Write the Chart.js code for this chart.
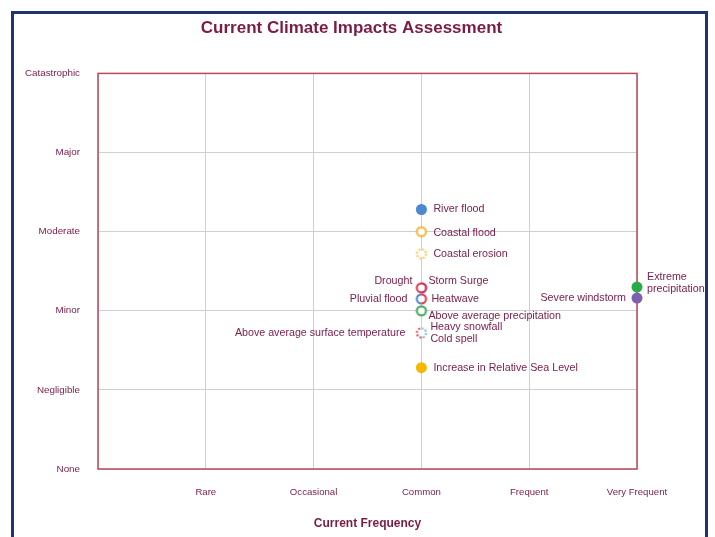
<!DOCTYPE html>
<html>
<head>
<meta charset="utf-8">
<title>Current Climate Impacts Assessment</title>
<script src="https://cdn.jsdelivr.net/npm/chart.js@4.4.1/dist/chart.umd.min.js"></script>
<style>
    html, body { margin: 0; padding: 0; background: #ffffff; }
    #frame {
        position: absolute; left: 11px; top: 11px;
        width: 691px; height: 600px;
        border: 3px solid #1f3468;
    }
    #wrap { position: absolute; left: 0; top: 0; width: 715px; height: 537px; }
</style>
</head>
<body>
<div id="frame"></div>
<div id="wrap"><canvas id="impactChart"></canvas></div>
<script>
// --- data ---
const riskNames = [
    'River flood', 'Coastal flood', 'Coastal erosion', 'Drought', 'Storm Surge',
    'Pluvial flood', 'Heatwave', 'Above average precipitation',
    'Above average surface temperature', 'Heavy snowfall', 'Cold spell',
    'Increase in Relative Sea Level', 'Extreme precipitation', 'Severe windstorm'
];
const frequencyValues = [3, 3, 3, 3, 3, 3, 3, 3, 3, 3, 3, 3, 5, 5];
const impactValues = [3.28, 3.0, 2.72, 2.29, 2.29, 2.15, 2.15, 2.0, 1.72, 1.72, 1.72, 1.28, 2.3, 2.16];
const frequencyTicks = ['', 'Rare', 'Occasional', 'Common', 'Frequent', 'Very Frequent'];
const impactTicks = ['None', 'Negligible', 'Minor', 'Moderate', 'Major', 'Catastrophic'];

const TEXT_COLOR = '#7a2150';
const FONT_FAMILY = '"Liberation Sans", Arial, sans-serif';

/**
 * Build a small ring marker (full or half, solid or dashed) as a canvas point style.
 * The inside is filled white so grid lines do not show through.
 */
function makeRing(color, half, dashed) {
    const r = 4.6, lw = 2;
    const size = Math.ceil(2 * r + lw + 2);
    const c = document.createElement('canvas');
    c.width = c.height = size;
    const ctx = c.getContext('2d');
    const mid = size / 2;
    let a0 = 0, a1 = Math.PI * 2;
    if (half === 'left') { a0 = Math.PI / 2; a1 = Math.PI * 1.5; }
    if (half === 'right') { a0 = -Math.PI / 2; a1 = Math.PI / 2; }
    // white inner fill
    ctx.fillStyle = '#ffffff';
    ctx.beginPath();
    ctx.moveTo(mid, mid);
    ctx.arc(mid, mid, r - lw / 2, a0, a1);
    ctx.closePath();
    ctx.fill();
    // coloured outline
    ctx.strokeStyle = color;
    ctx.lineWidth = lw;
    if (dashed) ctx.setLineDash([2, 1.6]);
    ctx.beginPath();
    ctx.arc(mid, mid, r, a0, a1);
    ctx.stroke();
    return c;
}

// marker style per series (same order as riskNames)
const markerStyles = [
    { fill: '#4a88cf' },
    { ring: makeRing('#f2b632', null, false) },
    { ring: makeRing('#f5c85a', null, true) },
    { ring: makeRing('#d9304f', null, false) },
    { ring: makeRing('#8a5cb0', 'right', false) },
    { ring: makeRing('#4a7fc8', 'left', false) },
    { ring: makeRing('#e23040', 'right', false) },
    { ring: makeRing('#3aa655', null, false) },
    { ring: makeRing('#e05050', 'left', true) },
    { ring: makeRing('#9cc8e8', 'right', true) },
    { ring: makeRing('#9cc8e8', 'right', true) },
    { fill: '#f7b800' },
    { fill: '#2daa48' },
    { fill: '#7d5fae' }
];

// label placement next to each marker: side, pixel offsets, line breaks
const labelPlacement = [
    { side: 'right', dx: 12, dy: 0 },
    { side: 'right', dx: 12, dy: 1 },
    { side: 'right', dx: 12, dy: 0 },
    { side: 'left', dx: -9, dy: -7 },
    { side: 'right', dx: 7, dy: -7 },
    { side: 'left', dx: -14, dy: 0 },
    { side: 'right', dx: 10, dy: 0 },
    { side: 'right', dx: 7, dy: 5 },
    { side: 'left', dx: -16, dy: 0 },
    { side: 'right', dx: 9, dy: -6 },
    { side: 'right', dx: 9, dy: 6 },
    { side: 'right', dx: 12, dy: 0 },
    { side: 'right', dx: 10, dy: -10, lines: ['Extreme', 'precipitation'] },
    { side: 'left', dx: -11, dy: 0 }
];

const datasets = riskNames.map((name, i) => {
    const style = markerStyles[i];
    return {
        label: name,
        data: [{ x: frequencyValues[i], y: impactValues[i] }],
        pointStyle: style.ring || 'circle',
        pointRadius: style.ring ? 5 : 5.5,
        pointBackgroundColor: style.fill || 'transparent',
        pointBorderColor: style.fill || 'transparent',
        pointBorderWidth: 0,
        clip: false
    };
});

// plot frame drawn under the markers
const plotBorderPlugin = {
    id: 'plotBorder',
    beforeDatasetsDraw(chart) {
        const { ctx, chartArea: a } = chart;
        ctx.save();
        ctx.strokeStyle = '#b8485e';
        ctx.lineWidth = 1.5;
        ctx.strokeRect(a.left, a.top, a.right - a.left, a.bottom - a.top);
        ctx.restore();
    }
};

// text labels beside each marker, placed through the scales
const pointLabelPlugin = {
    id: 'pointLabels',
    afterDatasetsDraw(chart) {
        const { ctx, scales } = chart;
        ctx.save();
        ctx.font = '10.7px ' + FONT_FAMILY;
        ctx.fillStyle = TEXT_COLOR;
        ctx.textBaseline = 'middle';
        riskNames.forEach((name, i) => {
            const p = labelPlacement[i];
            const px = scales.x.getPixelForValue(frequencyValues[i]);
            const py = scales.y.getPixelForValue(impactValues[i]);
            ctx.textAlign = p.side === 'left' ? 'right' : 'left';
            const lines = p.lines || [name];
            lines.forEach((line, k) => {
                ctx.fillText(line, px + p.dx, py + p.dy + k * 12);
            });
        });
        ctx.restore();
    }
};

new Chart(document.getElementById('impactChart'), {
    type: 'scatter',
    data: { datasets },
    options: {
        responsive: true,
        maintainAspectRatio: false,
        animation: false,
        layout: { padding: { left: 0, right: 12, top: 0, bottom: 0 } },
        plugins: {
            legend: { display: false },
            tooltip: { enabled: false },
            title: {
                display: true,
                text: 'Current Climate Impacts Assessment',
                color: '#7a1c45',
                font: { family: FONT_FAMILY, size: 17, weight: 'bold' },
                padding: { top: 18, bottom: 35 }
            }
        },
        scales: {
            x: {
                type: 'linear',
                min: 0,
                max: 5,
                afterFit(scale) { scale.height = 68; },
                grid: { color: '#cfcfcf', lineWidth: 1, drawTicks: false },
                border: { display: false },
                ticks: {
                    stepSize: 1,
                    autoSkip: false,
                    maxRotation: 0,
                    padding: 18,
                    color: TEXT_COLOR,
                    font: { family: FONT_FAMILY, size: 9.6 },
                    callback: v => frequencyTicks[v] ?? ''
                },
                title: {
                    display: true,
                    text: 'Current Frequency',
                    color: '#7a1c45',
                    font: { family: FONT_FAMILY, size: 12, weight: 'bold' },
                    padding: { top: 0, bottom: 6 }
                }
            },
            y: {
                type: 'linear',
                min: 0,
                max: 5,
                afterFit(scale) { scale.width = 98; },
                grid: { color: '#cfcfcf', lineWidth: 1, drawTicks: false },
                border: { display: false },
                ticks: {
                    stepSize: 1,
                    autoSkip: false,
                    padding: 18,
                    color: TEXT_COLOR,
                    font: { family: FONT_FAMILY, size: 9.8 },
                    callback: v => impactTicks[v] ?? ''
                }
            },
            // empty right-hand axis, only reserves space beside the plot
            yRight: {
                type: 'linear',
                position: 'right',
                min: 0,
                max: 5,
                afterFit(scale) { scale.width = 66; },
                grid: { display: false, drawTicks: false },
                border: { display: false },
                ticks: { display: false }
            }
        }
    },
    plugins: [plotBorderPlugin, pointLabelPlugin]
});
</script>
</body>
</html>
